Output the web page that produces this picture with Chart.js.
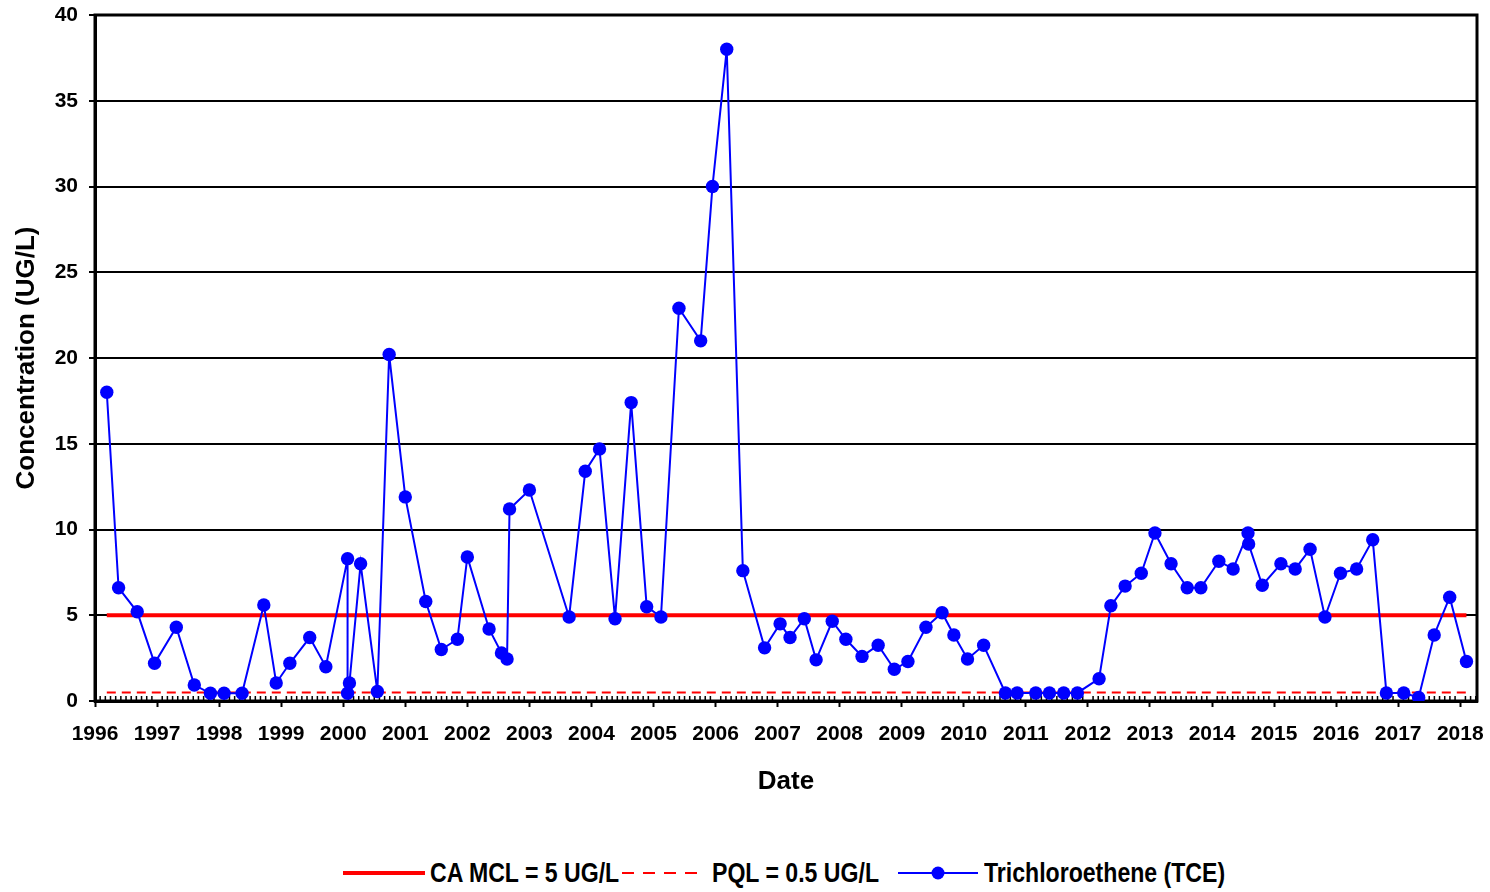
<!DOCTYPE html>
<html>
<head>
<meta charset="utf-8">
<script src="https://cdn.jsdelivr.net/npm/chart.js@4.4.1/dist/chart.umd.min.js"></script>
<style>
    body { margin: 0; background: #fff; }
    #wrap { position: relative; width: 1490px; height: 892px; }
    #tceChart { position: absolute; left: 0; top: 0; }
    .lg { position: absolute; top: 858px; height: 30px; line-height: 30px; white-space: nowrap;
          font-family: 'Liberation Sans', Arial, sans-serif;
          font-weight: bold; font-size: 27px; color: #000;
          transform: scaleX(0.855); transform-origin: left center; }
    .sym { position: absolute; top: 866px; }
</style>
</head>
<body>
<div id="wrap">
    <canvas id="tceChart" width="1490" height="803"></canvas>
    <svg class="sym" style="left:343px" width="82" height="14"><line x1="0" y1="7" x2="82" y2="7" stroke="#ff0000" stroke-width="4"/></svg>
    <div class="lg" style="left:430px">CA MCL = 5 UG/L</div>
    <svg class="sym" style="left:622px" width="84" height="14"><line x1="0" y1="7" x2="84" y2="7" stroke="#ff0000" stroke-width="2" stroke-dasharray="12,9"/></svg>
    <div class="lg" style="left:712px">PQL = 0.5 UG/L</div>
    <svg class="sym" style="left:898px" width="80" height="14"><line x1="0" y1="7" x2="80" y2="7" stroke="#0000ff" stroke-width="2"/><circle cx="40" cy="7" r="6.5" fill="#0000ff"/></svg>
    <div class="lg" style="left:984px">Trichloroethene (TCE)</div>
</div>
<script>
// sample dates as decimal years
const sampleDates = [
    1996.19, 1996.38, 1996.68, 1996.96, 1997.31, 1997.60, 1997.86, 1998.08, 1998.37, 1998.72,
    1998.92, 1999.14, 1999.46, 1999.72, 2000.07, 2000.07, 2000.10, 2000.28, 2000.55, 2000.74,
    2001.00, 2001.33, 2001.58, 2001.84, 2002.00, 2002.35, 2002.55, 2002.64, 2002.68, 2003.00,
    2003.64, 2003.90, 2004.13, 2004.38, 2004.64, 2004.89, 2005.12, 2005.41, 2005.76, 2005.95,
    2006.18, 2006.44, 2006.79, 2007.04, 2007.20, 2007.43, 2007.62, 2007.88, 2008.10, 2008.36,
    2008.62, 2008.88, 2009.10, 2009.39, 2009.65, 2009.84, 2010.06, 2010.32, 2010.67, 2010.86,
    2011.16, 2011.38, 2011.61, 2011.83, 2012.18, 2012.37, 2012.60, 2012.86, 2013.08, 2013.34,
    2013.60, 2013.82, 2014.11, 2014.34, 2014.58, 2014.59, 2014.81, 2015.11, 2015.34, 2015.58,
    2015.82, 2016.07, 2016.33, 2016.59, 2016.81, 2017.09, 2017.33, 2017.58, 2017.83, 2018.10
];
const tceValues = [
    18.0, 6.6, 5.2, 2.2, 4.3, 0.93, 0.45, 0.45, 0.45, 5.6,
    1.05, 2.2, 3.7, 2.0, 8.3, 0.45, 1.05, 8.0, 0.55, 20.2,
    11.9, 5.8, 3.0, 3.6, 8.4, 4.2, 2.8, 2.45, 11.2, 12.3,
    4.9, 13.4, 14.7, 4.8, 17.4, 5.5, 4.9, 22.9, 21.0, 30.0,
    38.0, 7.6, 3.1, 4.5, 3.7, 4.8, 2.4, 4.65, 3.6, 2.6,
    3.25, 1.85, 2.3, 4.3, 5.15, 3.85, 2.45, 3.25, 0.47, 0.47,
    0.47, 0.47, 0.47, 0.47, 1.3, 5.55, 6.7, 7.45, 9.8, 8.0,
    6.6, 6.6, 8.15, 7.7, 9.8, 9.15, 6.75, 8.0, 7.7, 8.85,
    4.9, 7.45, 7.7, 9.4, 0.47, 0.47, 0.2, 3.85, 6.05, 2.3
];
const mclValue = 5;
const pqlValue = 0.5;
const xMin = 1996;
const xMax = 2018.27;
const yMax = 40;

const firstDate = sampleDates[0];
const lastDate = sampleDates[sampleDates.length - 1];

// monthly minor ticks on the date axis + closing frame
const frameAndTicks = {
    id: 'frameAndTicks',
    beforeDatasetsDraw(chart) {
        const {ctx, chartArea: a, scales: {x}} = chart;
        ctx.save();
        ctx.strokeStyle = '#000';
        ctx.lineWidth = 1.5;
        ctx.beginPath();
        for (let m = 1; xMin + m / 12 < xMax; m++) {
            if (m % 12 === 0) continue;
            const px = x.getPixelForValue(xMin + m / 12);
            ctx.moveTo(px, a.bottom - 5);
            ctx.lineTo(px, a.bottom);
        }
        ctx.stroke();
        ctx.lineWidth = 3;
        ctx.strokeRect(a.left, a.top, a.right - a.left, a.bottom - a.top);
        ctx.restore();
    }
};

Chart.defaults.font.family = "'Liberation Sans', Arial, sans-serif";
Chart.defaults.font.weight = 'bold';
Chart.defaults.color = '#000';

const ctx = document.getElementById('tceChart').getContext('2d');
new Chart(ctx, {
    type: 'line',
    data: {
        datasets: [{
            label: 'Trichloroethene (TCE)',
            data: sampleDates.map((d, i) => ({x: d, y: tceValues[i]})),
            borderColor: '#0000ff',
            backgroundColor: '#0000ff',
            borderWidth: 2,
            pointRadius: 6.7,
            pointBorderWidth: 0,
            tension: 0
        }, {
            label: 'CA MCL = 5 UG/L',
            data: [{x: firstDate, y: mclValue}, {x: lastDate, y: mclValue}],
            borderColor: '#ff0000',
            borderWidth: 4,
            pointRadius: 0
        }, {
            label: 'PQL = 0.5 UG/L',
            data: [{x: firstDate, y: pqlValue}, {x: lastDate, y: pqlValue}],
            borderColor: '#ff0000',
            borderWidth: 2,
            borderDash: [9, 6],
            pointRadius: 0
        }]
    },
    options: {
        responsive: false,
        animation: false,
        layout: {
            padding: {left: 7, top: 15, right: 13, bottom: 2}
        },
        plugins: {
            legend: {display: false},
            tooltip: {enabled: false}
        },
        scales: {
            x: {
                type: 'linear',
                min: xMin,
                max: xMax,
                afterFit: (scale) => {
                    scale.height = 100;
                    scale.paddingLeft = 0;
                    scale.paddingRight = 0;
                },
                ticks: {
                    stepSize: 1,
                    includeBounds: false,
                    autoSkip: false,
                    maxRotation: 0,
                    padding: 15,
                    font: {size: 21, weight: 'bold'},
                    callback: (v) => String(Math.round(v))
                },
                grid: {
                    drawOnChartArea: false,
                    color: '#000',
                    tickLength: 6,
                    tickWidth: 2
                },
                border: {color: '#000', width: 3},
                title: {
                    display: true,
                    text: 'Date',
                    font: {size: 26, weight: 'bold'},
                    padding: 4
                }
            },
            y: {
                min: 0,
                max: yMax,
                afterFit: (scale) => {
                    scale.width = 88;
                    scale.paddingTop = 0;
                    scale.paddingBottom = 0;
                },
                ticks: {
                    stepSize: 5,
                    padding: 11,
                    font: {size: 21, weight: 'bold'}
                },
                grid: {
                    color: '#000',
                    lineWidth: 2,
                    tickLength: 6,
                    tickWidth: 2
                },
                border: {color: '#000', width: 3},
                title: {
                    display: true,
                    text: 'Concentration (UG/L)',
                    font: {size: 26, weight: 'bold'},
                    padding: 4
                }
            }
        }
    },
    plugins: [frameAndTicks]
});
</script>
</body>
</html>
